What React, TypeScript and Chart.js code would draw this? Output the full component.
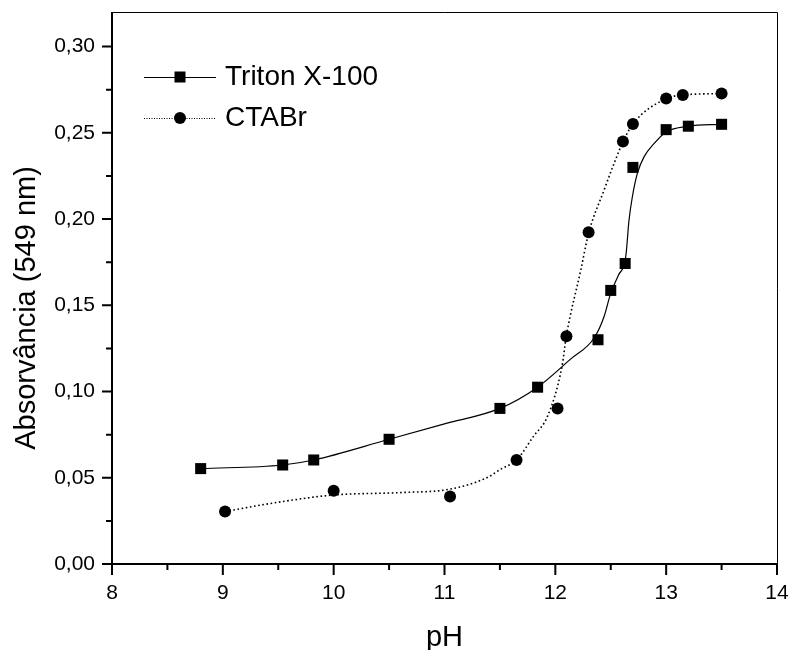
import React, { useEffect, useRef } from 'react';
import { Chart, registerables } from 'chart.js';

Chart.register(...registerables);

// ---- Data ----
const seriesNames = ['Triton X-100', 'CTABr'];

// Measured points
const tritonPH = [8.8, 9.54, 9.82, 10.5, 11.5, 11.84, 12.385, 12.5, 12.63, 12.7, 13.0, 13.2, 13.5];
const tritonAbs = [0.0553, 0.0574, 0.0603, 0.0723, 0.0902, 0.1025, 0.130, 0.1586, 0.1742, 0.2299, 0.2518, 0.2538, 0.2549];

const ctabPH = [9.02, 10.0, 11.05, 11.65, 12.02, 12.1, 12.3, 12.61, 12.7, 13.0, 13.15, 13.5];
const ctabAbs = [0.0305, 0.0424, 0.0391, 0.0603, 0.0902, 0.132, 0.1923, 0.2449, 0.2551, 0.2698, 0.2719, 0.2727];

// Fitted curves
const tritonFitPH = [8.8, 9.54, 9.82, 10.5, 11.0, 11.5, 11.84, 12.14, 12.35, 12.44, 12.5, 12.57, 12.635, 12.665, 12.695, 12.74, 12.8, 12.89, 13.0, 13.2, 13.5];
const tritonFitAbs = [0.0553, 0.0574, 0.0603, 0.0723, 0.0812, 0.0902, 0.1025, 0.1189, 0.131, 0.1435, 0.157, 0.1675, 0.178, 0.1994, 0.2129, 0.2264, 0.236, 0.2437, 0.2505, 0.2538, 0.2549];

const ctabFitPH = [9.02, 9.5, 10.0, 10.6, 11.05, 11.385, 11.505, 11.65, 11.805, 11.93, 12.06, 12.1, 12.23, 12.3, 12.44, 12.53, 12.61, 12.7, 13.0, 13.15, 13.5];
const ctabFitAbs = [0.0305, 0.0358, 0.04, 0.0414, 0.0434, 0.0501, 0.0549, 0.0603, 0.0742, 0.0857, 0.1146, 0.1324, 0.1705, 0.1917, 0.2168, 0.2322, 0.2447, 0.2551, 0.2698, 0.2719, 0.2727];

// Axes
const xMajorTicks = [8, 9, 10, 11, 12, 13, 14];
const xMinorTicks = [8.5, 9.5, 10.5, 11.5, 12.5, 13.5];
const yMajorTicks = [0, 0.05, 0.1, 0.15, 0.2, 0.25, 0.3];
const yMinorTicks = [0.025, 0.075, 0.125, 0.175, 0.225, 0.275];
const xTitle = 'pH';
const yTitle = 'Absorvância (549 nm)';

const FONT = "'Liberation Sans', Arial, Helvetica, sans-serif";

const toPts = (xs: number[], ys: number[]) => xs.map((x, i) => ({ x, y: ys[i] }));
const fmt = (v: number) => v.toFixed(2).replace('.', ',');

const zeroPad = (s: any) => {
  s.paddingTop = 0;
  s.paddingBottom = 0;
  s.paddingLeft = 0;
  s.paddingRight = 0;
};

const decorPlugin = {
  id: 'decor',
  afterDraw(chart: any) {
    const { ctx, chartArea: ca, scales } = chart;
    const xs = scales.x;
    const ys = scales.y;
    ctx.save();
    ctx.strokeStyle = '#000';
    ctx.fillStyle = '#000';

    // top & right frame (thin)
    ctx.lineWidth = 1;
    ctx.beginPath();
    ctx.moveTo(ca.left, Math.round(ca.top) + 0.5);
    ctx.lineTo(Math.round(ca.right) + 0.5, Math.round(ca.top) + 0.5);
    ctx.lineTo(Math.round(ca.right) + 0.5, ca.bottom);
    ctx.stroke();

    // left & bottom axes (thick)
    ctx.lineWidth = 2;
    ctx.beginPath();
    ctx.moveTo(ca.left, ca.top);
    ctx.lineTo(ca.left, ca.bottom);
    ctx.lineTo(ca.right + 1, ca.bottom);
    ctx.stroke();

    // ticks
    ctx.lineWidth = 2;
    ctx.beginPath();
    yMajorTicks.forEach((v) => {
      const p = ys.getPixelForValue(v);
      ctx.moveTo(ca.left - 10, p);
      ctx.lineTo(ca.left, p);
    });
    yMinorTicks.forEach((v) => {
      const p = ys.getPixelForValue(v);
      ctx.moveTo(ca.left - 6, p);
      ctx.lineTo(ca.left, p);
    });
    xMajorTicks.forEach((v) => {
      const p = xs.getPixelForValue(v);
      ctx.moveTo(p, ca.bottom);
      ctx.lineTo(p, ca.bottom + 11);
    });
    xMinorTicks.forEach((v) => {
      const p = xs.getPixelForValue(v);
      ctx.moveTo(p, ca.bottom);
      ctx.lineTo(p, ca.bottom + 6);
    });
    ctx.stroke();

    // y axis title
    ctx.save();
    ctx.translate(27, 308);
    ctx.rotate(-Math.PI / 2);
    ctx.font = `29px ${FONT}`;
    ctx.textAlign = 'center';
    ctx.textBaseline = 'middle';
    ctx.fillText(yTitle, 0, 0);
    ctx.restore();

    // legend
    const rows = [77, 118];
    seriesNames.forEach((name, i) => {
      const yy = rows[i];
      ctx.save();
      ctx.lineWidth = 1;
      if (i === 1) ctx.setLineDash([1, 1.5]);
      ctx.beginPath();
      ctx.moveTo(144, yy + 0.5);
      ctx.lineTo(216, yy + 0.5);
      ctx.stroke();
      ctx.restore();
      if (i === 0) {
        ctx.fillRect(180 - 5.5, yy - 5.5, 11, 11);
      } else {
        ctx.beginPath();
        ctx.arc(180, yy, 6, 0, Math.PI * 2);
        ctx.fill();
      }
      ctx.font = `28px ${FONT}`;
      ctx.textAlign = 'left';
      ctx.textBaseline = 'middle';
      ctx.fillText(name, 225, yy);
    });

    ctx.restore();
  },
};

export default function App() {
  const ref = useRef<HTMLCanvasElement | null>(null);

  useEffect(() => {
    document.body.style.margin = '0';
    const canvas = ref.current;
    if (!canvas) return;
    const chart = new Chart(canvas, {
      type: 'scatter',
      data: {
        datasets: [
          {
            label: seriesNames[0],
            data: toPts(tritonPH, tritonAbs),
            showLine: false,
            pointStyle: 'rect',
            pointRadius: 7.8,
            backgroundColor: '#000',
            borderColor: '#000',
            borderWidth: 0,
          },
          {
            label: seriesNames[1],
            data: toPts(ctabPH, ctabAbs),
            showLine: false,
            pointStyle: 'circle',
            pointRadius: 6,
            backgroundColor: '#000',
            borderColor: '#000',
            borderWidth: 0,
          },
          {
            label: seriesNames[0] + ' fit',
            data: toPts(tritonFitPH, tritonFitAbs),
            showLine: true,
            pointRadius: 0,
            borderColor: '#000',
            borderWidth: 1.2,
            cubicInterpolationMode: 'monotone',
            fill: false,
          },
          {
            label: seriesNames[1] + ' fit',
            data: toPts(ctabFitPH, ctabFitAbs),
            showLine: true,
            pointRadius: 0,
            borderColor: '#000',
            borderWidth: 1.6,
            borderDash: [1.6, 2.6],
            cubicInterpolationMode: 'monotone',
            fill: false,
          },
        ],
      },
      options: {
        animation: false,
        responsive: false,
        events: [],
        layout: { autoPadding: false, padding: { top: 12, right: 14, left: 0, bottom: 0 } },
        plugins: {
          legend: { display: false },
          tooltip: { enabled: false },
          title: { display: false },
        },
        scales: {
          x: {
            type: 'linear',
            min: 8,
            max: 14,
            afterFit: (s: any) => {
              s.height = 86;
              zeroPad(s);
            },
            afterBuildTicks: (s: any) => {
              s.ticks = xMajorTicks.map((v) => ({ value: v }));
            },
            grid: { display: false, drawTicks: false },
            border: { display: false },
            ticks: {
              autoSkip: false,
              maxRotation: 0,
              padding: 17,
              color: '#000',
              font: { family: FONT, size: 21 },
              callback: (v: any) => String(v),
            },
            title: {
              display: true,
              text: xTitle,
              color: '#000',
              font: { family: FONT, size: 29, lineHeight: 1 },
              padding: { top: 0, bottom: -2.5 },
            },
          },
          y: {
            type: 'linear',
            min: 0,
            max: 0.32,
            afterFit: (s: any) => {
              s.width = 112;
              zeroPad(s);
            },
            afterBuildTicks: (s: any) => {
              s.ticks = yMajorTicks.map((v) => ({ value: v }));
            },
            grid: { display: false, drawTicks: false },
            border: { display: false },
            ticks: {
              autoSkip: false,
              padding: 17,
              color: '#000',
              font: { family: FONT, size: 21 },
              callback: (v: any) => fmt(Number(v)),
            },
            title: { display: false },
          },
        },
      },
      plugins: [decorPlugin],
    } as any);
    return () => chart.destroy();
  }, []);

  return (
    <div style={{ width: 791, height: 650, background: '#fff' }}>
      <canvas ref={ref} width={791} height={650} style={{ display: 'block', width: 791, height: 650 }} />
    </div>
  );
}
